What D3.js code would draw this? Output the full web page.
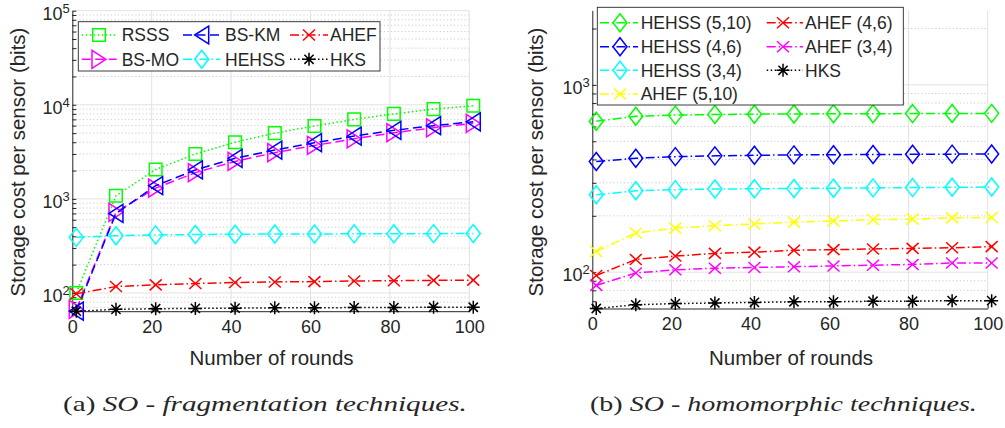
<!DOCTYPE html>
<html><head><meta charset="utf-8">
<script src="https://cdn.jsdelivr.net/npm/d3@7"></script>
<style>
body{margin:0;background:#fff}
svg{display:block}
text{font-family:"Liberation Sans",Arial,Helvetica,sans-serif;fill:#262626}
</style>
</head><body>
<svg id="c" width="1005" height="428"></svg>
<script>
// ---------- data ----------
const rounds = [1, 11, 21, 31, 41, 51, 61, 71, 81, 91, 101];
const xTickValues = [0, 20, 40, 60, 80, 100];
const yTickExpA = [2, 3, 4, 5];
const yTickExpB = [2, 3];
const xLabel = "Number of rounds";
const yLabel = "Storage cost per sensor (bits)";
const captionA = ["(a) ", "SO - fragmentation techniques."];
const captionB = ["(b) ", "SO - homomorphic techniques."];

// panel (a): fragmentation techniques
const aNames = ["RSSS", "BS-MO", "BS-KM", "HEHSS", "AHEF", "HKS"];
const aRSSS  = [100, 1080, 2050, 3000, 4000, 5000, 5950, 7000, 8000, 9000, 9750];
const aBSMO  = [67, 720, 1300, 1900, 2500, 3100, 3700, 4350, 5050, 5700, 6350];
const aBSKM  = [64, 700, 1380, 2030, 2700, 3300, 3950, 4650, 5350, 6000, 6600];
const aHEHSS = [390, 406, 414, 418, 421, 423, 424, 425, 426, 427, 428];
const aAHEF  = [98, 117, 122, 126, 129, 131, 132, 134, 135, 136, 137];
const aHKS   = [64, 67, 68, 68.5, 69, 69.5, 69.5, 70, 70, 70.5, 70.5];

// panel (b): homomorphic techniques
const bNames = ["HEHSS (5,10)", "HEHSS (4,6)", "HEHSS (3,4)", "AHEF (5,10)", "AHEF (4,6)", "AHEF (3,4)", "HKS"];
const bHEHSS510 = [640, 680, 690, 695, 698, 700, 701, 702, 703, 704, 705];
const bHEHSS46  = [390, 406, 414, 418, 421, 423, 424, 425, 426, 427, 428];
const bHEHSS34  = [259, 272, 276, 278, 279, 280, 281, 282, 283, 284, 285];
const bAHEF510  = [129, 162, 172, 177, 181, 185, 188, 191, 192, 195, 196];
const bAHEF46   = [96, 117, 122, 126, 128, 131, 132, 133, 134, 135, 137];
const bAHEF34   = [85, 99, 103, 105, 106, 107, 108, 109, 110, 112, 112];
const bHKS      = [64, 67, 68, 68.5, 69, 69.5, 69.5, 70, 70, 70.5, 70.5];

// ---------- styles ----------
const dashes = {dot: "1.5,2.5", dash: "9,4.5", dashdot: "9,3,1.5,3"};
function markerPath(type) {
  switch (type) {
    case "square":   return "M-6.3,-6.3H6.3V6.3H-6.3Z";
    case "diamond":  return "M0,-9L7,0L0,9L-7,0Z";
    case "triLeft":  return "M-7,0L7,-9L7,9Z";
    case "triRight": return "M7,0L-7,-9L-7,9Z";
    case "x":        return "M-6,-5.5L6,5.5M-6,5.5L6,-5.5";
    case "star":     return "M-6.5,0H6.5M0,-6.5V6.5M-4.6,-4.6L4.6,4.6M-4.6,4.6L4.6,-4.6";
  }
}

const panels = [
  {
    x0: 72.3, x1: 469.3, yTop: 10.7, yBot: 311.2, yMin: 64, yMax: 1e5, exps: yTickExpA,
    ylabX: 25, xlabX: 271.5, caption: captionA, capX0: 63, capX1: 467,
    series: [
      {name: aNames[0], values: aRSSS,  color: "#00ff00", dash: "dot",     marker: "square"},
      {name: aNames[1], values: aBSMO,  color: "#ff00ff", dash: "dash",    marker: "triRight"},
      {name: aNames[2], values: aBSKM,  color: "#0000ff", dash: "dash",    marker: "triLeft"},
      {name: aNames[3], values: aHEHSS, color: "#00ffff", dash: "dashdot", marker: "diamond"},
      {name: aNames[4], values: aAHEF,  color: "#ff0000", dash: "dashdot", marker: "x"},
      {name: aNames[5], values: aHKS,   color: "#000000", dash: "dot",     marker: "star"}
    ],
    legend: {box: [78.3, 21.7, 380, 71], rows: 2, rowY: [35, 59.3],
             cols: [[81.7, 116.7, 99, 121.7], [183, 220, 201.7, 225], [290, 328, 309, 330]]}
  },
  {
    x0: 592.3, x1: 987.7, yTop: 10.4, yBot: 308.5, yMin: 64, yMax: 2500, exps: yTickExpB,
    ylabX: 543, xlabX: 791, caption: captionB, capX0: 590, capX1: 977,
    series: [
      {name: bNames[0], values: bHEHSS510, color: "#00ff00", dash: "dashdot", marker: "diamond"},
      {name: bNames[1], values: bHEHSS46,  color: "#0000ff", dash: "dashdot", marker: "diamond"},
      {name: bNames[2], values: bHEHSS34,  color: "#00ffff", dash: "dashdot", marker: "diamond"},
      {name: bNames[3], values: bAHEF510,  color: "#ffff00", dash: "dashdot", marker: "x"},
      {name: bNames[4], values: bAHEF46,   color: "#ff0000", dash: "dashdot", marker: "x"},
      {name: bNames[5], values: bAHEF34,   color: "#ff00ff", dash: "dashdot", marker: "x"},
      {name: bNames[6], values: bHKS,      color: "#000000", dash: "dot",     marker: "star"}
    ],
    legend: {box: [597.3, 7.3, 903.3, 105], rows: 4, rowY: [22.7, 46.7, 70.3, 94],
             cols: [[600, 638, 620, 640.7], [766.7, 803, 783, 805]]}
  }
];

const svg = d3.select("#c");
const AX = "#262626";

panels.forEach(p => {
  const x = d3.scaleLinear().domain([0, 100]).range([p.x0, p.x1]);
  const y = d3.scaleLog().domain([p.yMin, p.yMax]).range([p.yBot, p.yTop]);
  const g = svg.append("g");

  // minor & major y values
  const majors = p.exps.map(e => Math.pow(10, e)).filter(v => v >= p.yMin && v <= p.yMax);
  const minors = [];
  for (let e = 1; e <= 5; e++) for (let k = 2; k <= 9; k++) {
    const v = k * Math.pow(10, e);
    if (v > p.yMin && v < p.yMax) minors.push(v);
  }

  // grid
  const grid = g.append("g");
  grid.selectAll(".mg").data(minors).join("line")
    .attr("x1", p.x0).attr("x2", p.x1).attr("y1", d => y(d)).attr("y2", d => y(d))
    .attr("stroke", "#cfcfcf").attr("stroke-width", 1).attr("stroke-dasharray", "1.3,2.2");
  grid.selectAll(".Mg").data(majors).join("line")
    .attr("x1", p.x0).attr("x2", p.x1).attr("y1", d => y(d)).attr("y2", d => y(d))
    .attr("stroke", "#e2e2e2").attr("stroke-width", 1);
  grid.selectAll(".vg").data(xTickValues.filter(v => v > 0)).join("line")
    .attr("x1", d => x(d)).attr("x2", d => x(d)).attr("y1", p.yTop).attr("y2", p.yBot)
    .attr("stroke", "#e2e2e2").attr("stroke-width", 1);

  // axes
  const xAxis = g.append("g").attr("transform", `translate(0,${p.yBot})`)
    .call(d3.axisBottom(x).tickValues(xTickValues).tickSizeInner(-4).tickSizeOuter(0).tickPadding(9).tickFormat(d3.format("d")));
  xAxis.select(".domain").attr("stroke", AX);
  xAxis.selectAll(".tick line").attr("stroke", AX);
  xAxis.selectAll(".tick text").attr("font-size", 18).attr("fill", AX)
    .attr("font-family", '"Liberation Sans",Arial,sans-serif').attr("dy", "0.71em");

  const yAxis = g.append("g").attr("transform", `translate(${p.x0},0)`)
    .call(d3.axisLeft(y).tickValues(majors.concat(minors)).tickSizeInner(-4).tickSizeOuter(0).tickFormat(""));
  yAxis.select(".domain").attr("stroke", AX);
  yAxis.selectAll(".tick line").attr("stroke", AX);

  // y tick labels with superscripts
  majors.forEach(v => {
    const t = g.append("text").attr("x", p.x0 - 2.5).attr("y", y(v) + 9)
      .attr("text-anchor", "end").attr("font-size", 18);
    t.append("tspan").text("10");
    t.append("tspan").attr("font-size", 13).attr("dy", -7).text(String(Math.round(Math.log10(v))));
  });

  // axis labels
  g.append("text").attr("x", p.xlabX).attr("y", 365).attr("text-anchor", "middle")
    .attr("font-size", 20.5).text(xLabel);
  g.append("text").attr("transform", `translate(${p.ylabX},162) rotate(-90)`)
    .attr("text-anchor", "middle").attr("font-size", 20.5).text(yLabel);

  // series
  const line = d3.line().x(d => x(d[0])).y(d => y(d[1]));
  p.series.forEach(s => {
    const pts = rounds.map((r, i) => [r, s.values[i]]);
    g.append("path").datum(pts).attr("d", line).attr("fill", "none")
      .attr("stroke", s.color).attr("stroke-width", 1.5).attr("stroke-dasharray", dashes[s.dash]);
    g.selectAll(null).data(pts).join("path")
      .attr("transform", d => `translate(${x(d[0])},${y(d[1])})`)
      .attr("d", markerPath(s.marker)).attr("fill", "none")
      .attr("stroke", s.color).attr("stroke-width", 1.5);
  });

  // legend
  const L = p.legend;
  const lg = g.append("g");
  lg.append("rect").attr("x", L.box[0]).attr("y", L.box[1])
    .attr("width", L.box[2] - L.box[0]).attr("height", L.box[3] - L.box[1])
    .attr("fill", "#fff").attr("stroke", AX).attr("stroke-width", 0.9);
  p.series.forEach((s, i) => {
    const c = L.cols[Math.floor(i / L.rows)], ry = L.rowY[i % L.rows];
    lg.append("line").attr("x1", c[0]).attr("x2", c[1]).attr("y1", ry).attr("y2", ry)
      .attr("stroke", s.color).attr("stroke-width", 1.5).attr("stroke-dasharray", dashes[s.dash]);
    lg.append("path").attr("transform", `translate(${c[2]},${ry})`).attr("d", markerPath(s.marker))
      .attr("fill", "none").attr("stroke", s.color).attr("stroke-width", 1.5);
    lg.append("text").attr("x", c[3]).attr("y", ry + 6.2).attr("font-size", 17.5).attr("fill", "#000").text(s.name);
  });

  // caption
  const cap = svg.append("text").attr("y", 411).attr("font-size", 22)
    .style("font-family", '"Liberation Serif","Times New Roman",serif').attr("fill", "#000");
  cap.append("tspan").text(p.caption[0]);
  cap.append("tspan").attr("font-style", "italic").text(p.caption[1]);
  const w = cap.node().getComputedTextLength();
  const sx = (p.capX1 - p.capX0) / w;
  cap.attr("transform", `translate(${p.capX0},0) scale(${sx},1)`).attr("x", 0);
});
</script>
</body></html>
